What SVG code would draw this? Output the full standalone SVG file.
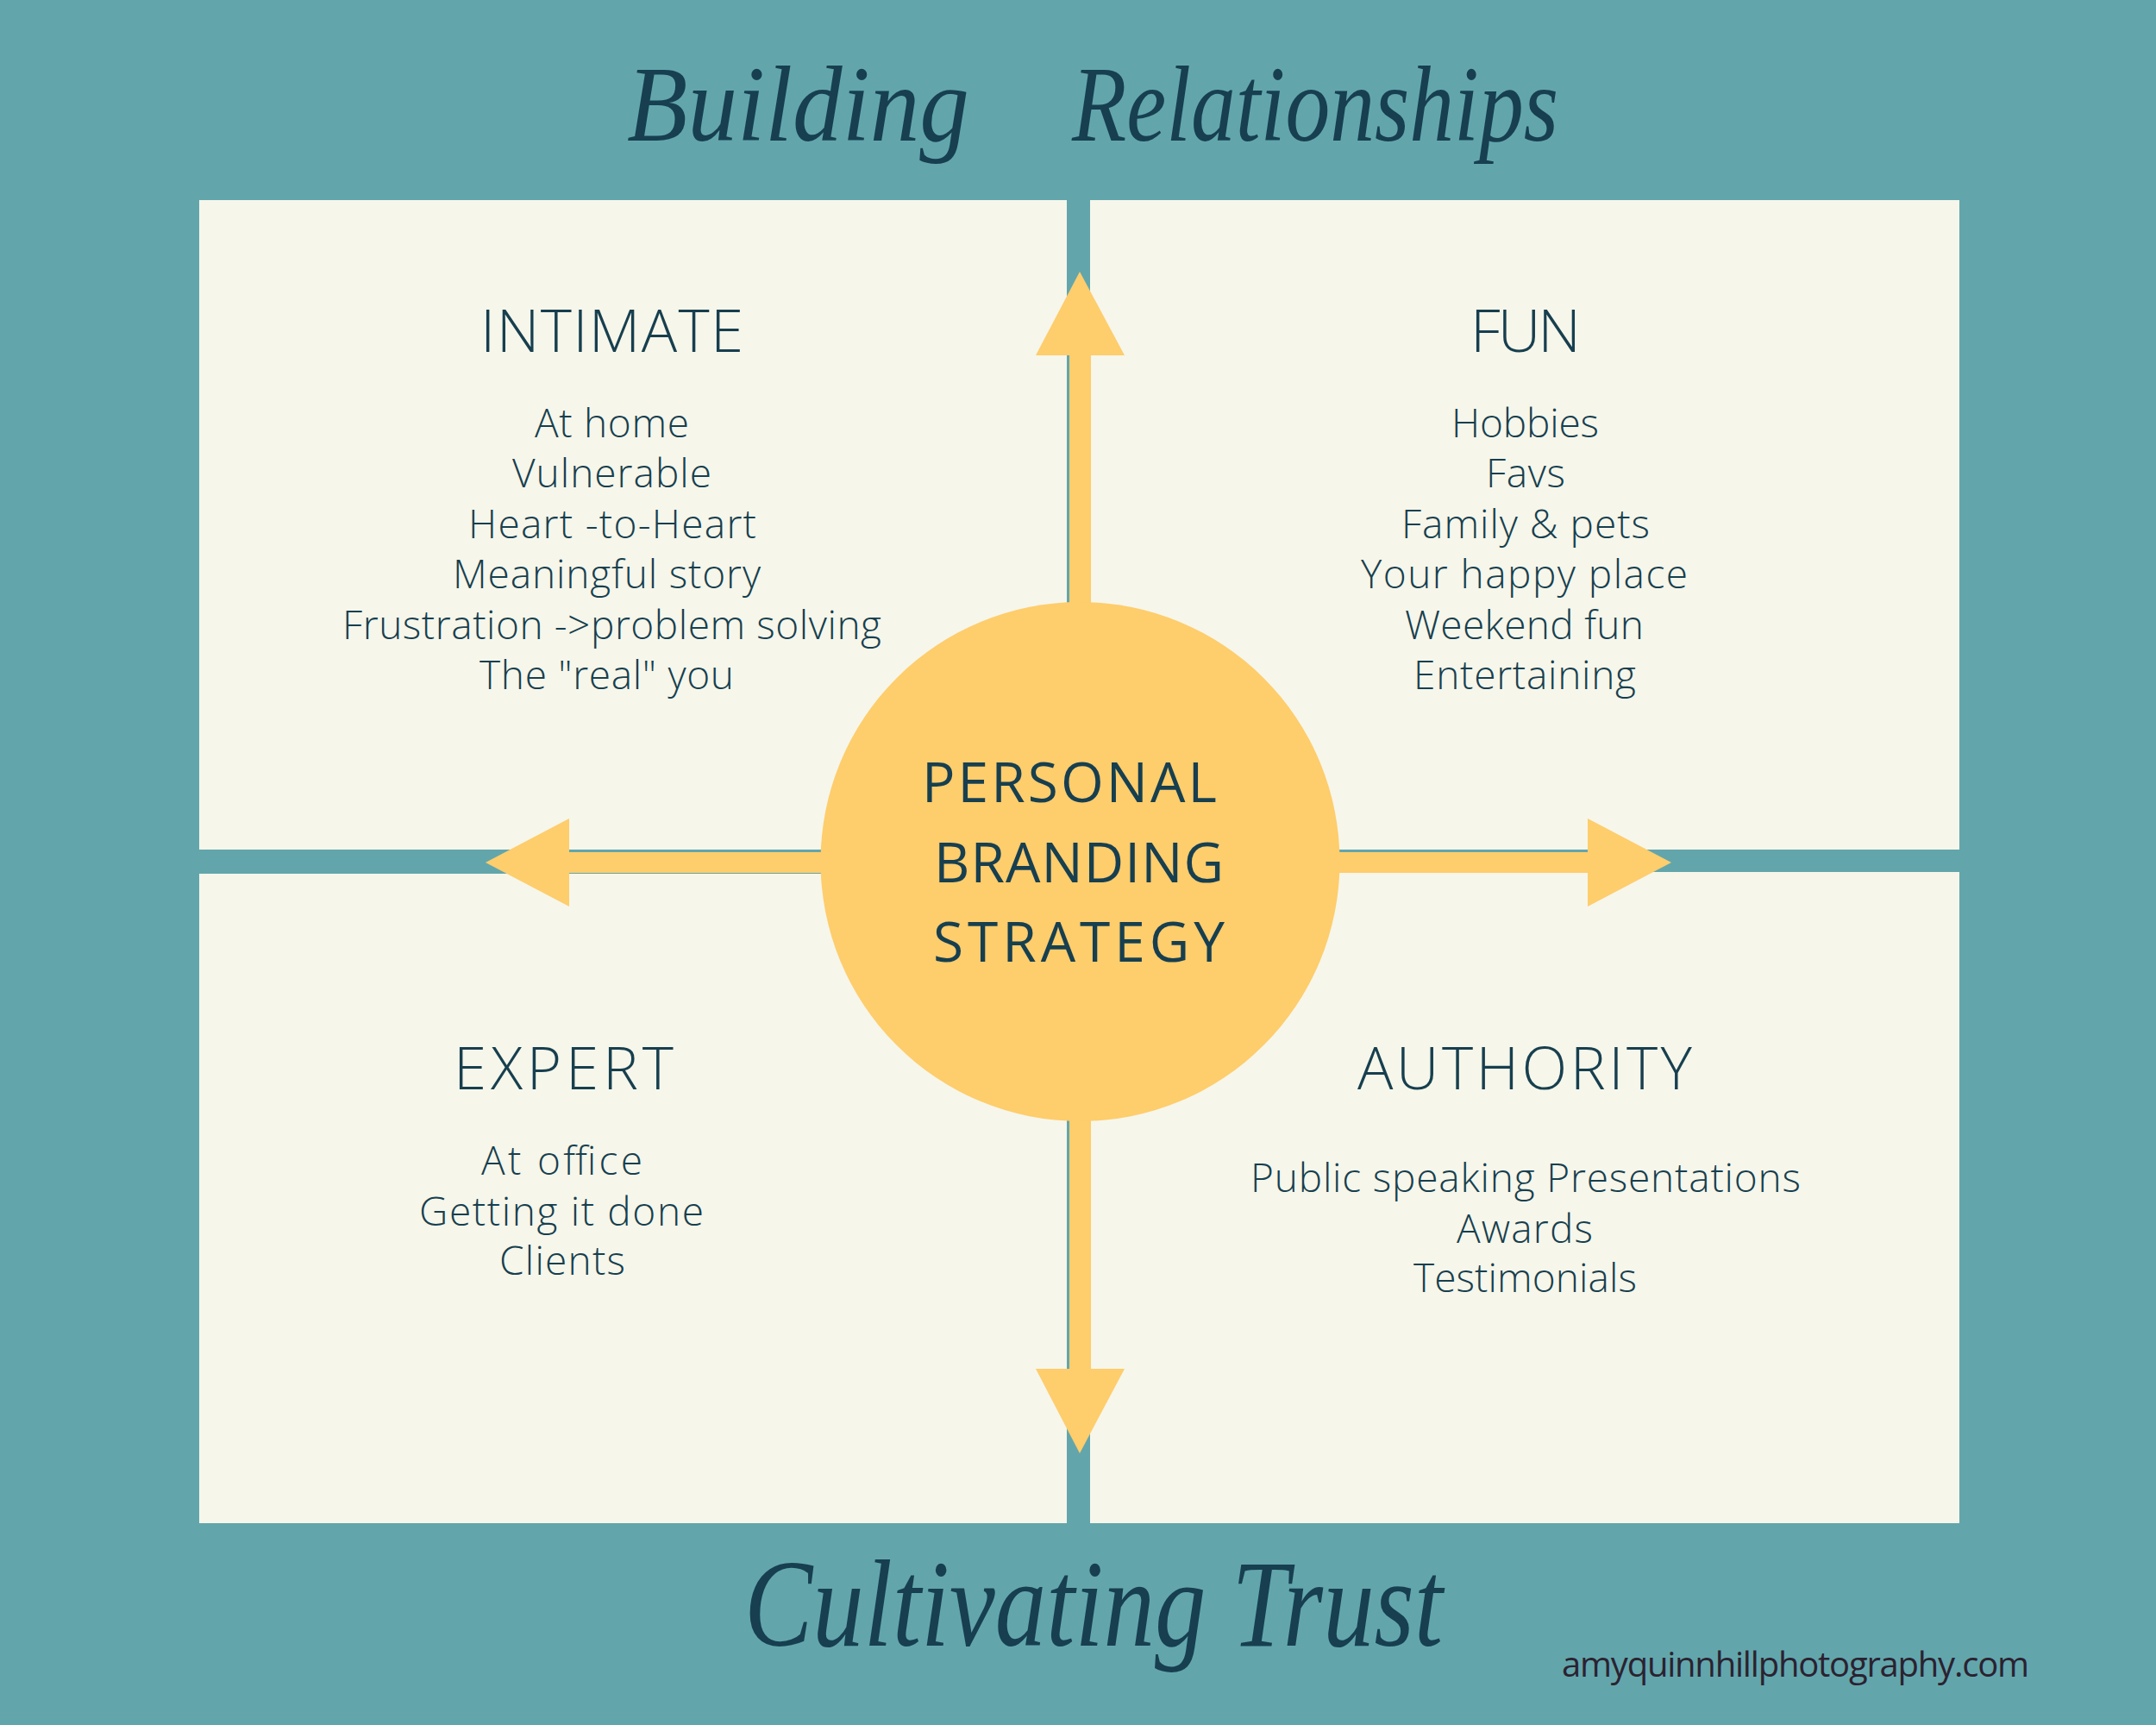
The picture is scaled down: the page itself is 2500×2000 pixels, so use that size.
<svg xmlns="http://www.w3.org/2000/svg" width="2500" height="2000" viewBox="0 0 2500 2000">
  <defs>
    <style>
      .bg { fill: #62A6AC; }
      .box { fill: #F6F6EA; }
      .sun { fill: #FECD6C; }
      .head { font-family: "Open Sans", "Noto Sans", sans-serif; font-size: 69px; font-weight: 300; fill: #173F4F; }
      .body { font-family: "Open Sans", "Noto Sans", sans-serif; font-size: 46px; font-weight: 300; fill: #173F4F; }
      .core { font-family: "Open Sans", "Noto Sans", sans-serif; font-size: 64px; fill: #173F4F; }
      .script { font-family: "Liberation Serif", "DejaVu Serif", serif; font-style: italic; fill: #173F4F; }
      .url { font-family: "Open Sans", "Noto Sans", sans-serif; font-size: 40px; fill: #2B2230; }
    </style>
  </defs>

  <rect class="bg" x="0" y="0" width="2500" height="2000"/>

  <g id="title-top">
    <text class="script" x="727" y="163" font-size="125" textLength="397" lengthAdjust="spacingAndGlyphs">Building</text>
    <text class="script" x="1243" y="163" font-size="125" textLength="564" lengthAdjust="spacingAndGlyphs">Relationships</text>
  </g>

  <g id="node-intimate">
    <rect class="box" x="231" y="232" width="1006" height="753"/>
    <text class="head" x="557" y="408" textLength="305" lengthAdjust="spacing">INTIMATE</text>
    <text class="body" x="620" y="507" textLength="179" lengthAdjust="spacing">At home</text>
    <text class="body" x="594" y="565" textLength="231" lengthAdjust="spacing">Vulnerable</text>
    <text class="body" x="543" y="624" textLength="334" lengthAdjust="spacing">Heart -to-Heart</text>
    <text class="body" x="525" y="682" textLength="357" lengthAdjust="spacing">Meaningful story</text>
    <text class="body" x="397" y="741" textLength="625" lengthAdjust="spacing">Frustration -&gt;problem solving</text>
    <text class="body" x="556" y="799" textLength="295" lengthAdjust="spacing">The "real" you</text>
  </g>

  <g id="node-fun">
    <rect class="box" x="1264" y="232" width="1008" height="753"/>
    <text class="head" x="1705" y="408" textLength="128" lengthAdjust="spacing">FUN</text>
    <text class="body" x="1683" y="507" textLength="171" lengthAdjust="spacing">Hobbies</text>
    <text class="body" x="1723" y="565" textLength="92" lengthAdjust="spacing">Favs</text>
    <text class="body" x="1625" y="624" textLength="288" lengthAdjust="spacing">Family &amp; pets</text>
    <text class="body" x="1578" y="682" textLength="379" lengthAdjust="spacing">Your happy place</text>
    <text class="body" x="1629" y="741" textLength="277" lengthAdjust="spacing">Weekend fun</text>
    <text class="body" x="1639" y="799" textLength="258" lengthAdjust="spacing">Entertaining</text>
  </g>

  <g id="node-expert">
    <rect class="box" x="231" y="1013" width="1006" height="753"/>
    <text class="head" x="526" y="1263" textLength="255" lengthAdjust="spacing">EXPERT</text>
    <text class="body" x="558" y="1362" textLength="187" lengthAdjust="spacing">At office</text>
    <text class="body" x="486" y="1421" textLength="330" lengthAdjust="spacing">Getting it done</text>
    <text class="body" x="579" y="1478" textLength="146" lengthAdjust="spacing">Clients</text>
  </g>

  <g id="node-authority">
    <rect class="box" x="1264" y="1011" width="1008" height="755"/>
    <text class="head" x="1574" y="1263" textLength="388" lengthAdjust="spacing">AUTHORITY</text>
    <text class="body" x="1450" y="1382" textLength="638" lengthAdjust="spacing">Public speaking Presentations</text>
    <text class="body" x="1689" y="1441" textLength="158" lengthAdjust="spacing">Awards</text>
    <text class="body" x="1639" y="1498" textLength="259" lengthAdjust="spacing">Testimonials</text>
  </g>

  <g id="connectors">
    <rect class="sun" x="1240" y="410" width="25" height="300"/>
    <polygon class="sun" points="1252,315 1304,412 1201,412"/>
    <rect class="sun" x="1240" y="1290" width="25" height="299"/>
    <polygon class="sun" points="1201,1587 1304,1587 1252,1685"/>
    <rect class="sun" x="658" y="988" width="300" height="24"/>
    <polygon class="sun" points="563,1000 660,949 660,1051"/>
    <rect class="sun" x="1545" y="988" width="298" height="24"/>
    <polygon class="sun" points="1938,1000 1841,949 1841,1051"/>
  </g>

  <g id="node-center">
    <circle class="sun" cx="1252.5" cy="999" r="301"/>
    <text class="core" x="1069" y="930" textLength="342" lengthAdjust="spacing">PERSONAL</text>
    <text class="core" x="1083" y="1023" textLength="336" lengthAdjust="spacing">BRANDING</text>
    <text class="core" x="1082" y="1115" textLength="338" lengthAdjust="spacing">STRATEGY</text>
  </g>

  <g id="title-bottom">
    <text class="script" x="863" y="1908" font-size="145" textLength="810" lengthAdjust="spacingAndGlyphs">Cultivating Trust</text>
  </g>

  <g id="footer">
    <text class="url" x="1811" y="1944" textLength="542" lengthAdjust="spacing">amyquinnhillphotography.com</text>
  </g>
</svg>
